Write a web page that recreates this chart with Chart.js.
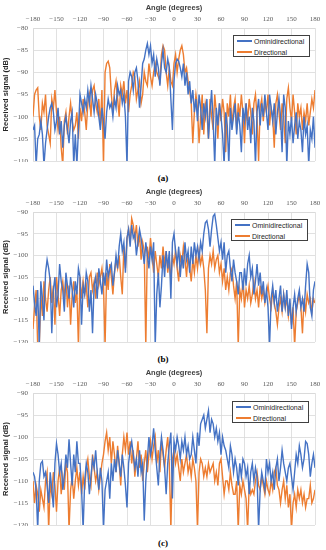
<!DOCTYPE html>
<html>
<head>
<meta charset="utf-8">
<script src="https://cdn.jsdelivr.net/npm/chart.js@4.4.1/dist/chart.umd.min.js"></script>
<style>
  html, body { margin:0; padding:0; background:#fff; }
  body { width:326px; height:550px; position:relative; overflow:hidden; }
  .panel { position:absolute; left:0; width:326px; }
  .panel canvas { display:block; }
  .legend { position:absolute; background:#fff; border:1px solid #404040; box-sizing:border-box; z-index:2; }
  .item { position:absolute; left:3px; height:9px; line-height:9px; font-family:"Liberation Sans", Arial, sans-serif; font-size:7px; color:#262626; white-space:nowrap; }
  .sw { display:inline-block; width:15px; height:2px; vertical-align:middle; margin-right:2px; position:relative; top:-1px; }
  .cap { position:absolute; left:0; width:326px; text-align:center; font-family:"Liberation Serif", "Times New Roman", serif; font-weight:bold; font-size:9px; color:#000; }
</style>
</head>
<body>
<div class="panel" style="top:0px;height:162px"><canvas id="ca" width="326" height="162"></canvas></div>
<div class="panel" style="top:184px;height:159px"><canvas id="cb" width="326" height="159"></canvas></div>
<div class="panel" style="top:365px;height:161px"><canvas id="cc" width="326" height="161"></canvas></div>

<div class="legend" style="left:233px;top:35px;width:77px;height:22px">
  <div class="item" style="top:0.5px"><span class="sw" style="background:#4472C4"></span>Ominidirectional</div>
  <div class="item" style="top:11.5px"><span class="sw" style="background:#ED7D31"></span>Directional</div>
</div>
<div class="legend" style="left:231px;top:219px;width:77px;height:22px">
  <div class="item" style="top:0.5px"><span class="sw" style="background:#4472C4"></span>Ominidirectional</div>
  <div class="item" style="top:11.5px"><span class="sw" style="background:#ED7D31"></span>Directional</div>
</div>
<div class="legend" style="left:232px;top:401px;width:77px;height:22px">
  <div class="item" style="top:0.5px"><span class="sw" style="background:#4472C4"></span>Ominidirectional</div>
  <div class="item" style="top:11.5px"><span class="sw" style="background:#ED7D31"></span>Directional</div>
</div>

<div class="cap" style="top:173px">(a)</div>
<div class="cap" style="top:354px">(b)</div>
<div class="cap" style="top:538px">(c)</div>

<script>
// Angle grid: -180 .. 180 in 2-degree steps
const ANGLE_START = -180, ANGLE_END = 180, ANGLE_STEP = 2;
const angles = [];
for (let a = ANGLE_START; a <= ANGLE_END; a += ANGLE_STEP) angles.push(a);

const xTicks = [-180, -150, -120, -90, -60, -30, 0, 30, 60, 90, 120, 150, 180];
const seriesNames = ['Ominidirectional', 'Directional'];

// (a)
const aOmni = [
 -103,-102,-111,-105,-104,-101,-104,-111,-106,-103,
 -100,-98,-97,-99,-103,-101,-98,-104,-101,-107,
 -102,-100,-103,-106,-101,-99,-111,-104,-111,-103,
 -95,-97,-99,-96,-98,-94,-97,-93,-96,-99,
 -95,-97,-100,-103,-98,-101,-105,-99,-96,-98,
 -97,-100,-96,-98,-93,-95,-94,-97,-95,-100,
 -111,-92,-90,-91,-94,-90,-89,-92,-98,-93,
 -88,-87,-85,-83.5,-86,-84,-88,-86,-91,-87,
 -89,-93,-88,-85,-89,-90,-87,-89,-96,-103,
 -92,-88,-87,-87.5,-89,-91,-88,-93,-90,-95,
 -92,-97,-94,-99,-96,-101,-95,-98,-103,-97,
 -100,-96,-105,-99,-94,-101,-111,-98,-102,-97,
 -100,-104,-111,-99,-102,-111,-98,-103,-100,-97,
 -104,-99,-102,-108,-98,-101,-97,-103,-100,-106,
 -98,-101,-111,-99,-96,-102,-97,-100,-95,-99,
 -103,-95,-98,-101,-97,-104,-99,-96,-100,-108,
 -95,-98,-111,-101,-104,-100,-106,-102,-99,-105,
 -101,-103,-108,-100,-104,-102,-111,-103,-105,-100,
 -107
];
const aDir = [
 -100,-95,-94,-93.5,-100,-103,-97,-99,-95,-102,
 -104,-106,-96,-98,-94,-99,-103,-100,-107,-111,
 -101,-99,-104,-100,-97,-101,-103,-102,-99,-105,
 -98,-101,-96,-99,-103,-97,-95,-100,-94,-93,
 -97,-99,-96,-102,-94,-111,-90,-88,-87.5,-89,
 -95,-99,-94,-92,-96,-100,-93,-95,-92,-97,
 -94,-99,-95,-93,-90,-91,-96,-94,-92,-97,
 -95,-90,-92,-93,-88,-91,-93,-90,-88,-90,
 -91,-92,-86,-84,-85,-90,-93,-89,-92,-93,
 -88,-86,-90,-87,-85,-84,-86,-90,-89,-92,
 -94,-97,-106,-99,-95,-98,-106,-100,-95,-104,
 -97,-99,-105,-96,-100,-103,-95,-99,-105,-97,
 -101,-96,-99,-108,-97,-100,-95,-102,-98,-96,
 -103,-97,-100,-95,-99,-106,-97,-101,-96,-99,
 -104,-97,-95,-100,-110,-98,-96,-101,-97,-99,
 -95,-102,-98,-100,-107,-97,-95,-99,-103,-97,
 -100,-106,-96,-93.5,-98,-101,-95,-99,-104,-97,
 -100,-98,-103,-99,-101,-97,-102,-99,-96,-98,
 -94
];

// (b)
const bOmni = [
 -107,-111,-114,-108,-121,-106,-110,-115,-104,-101,
 -103,-106,-118,-108,-105,-112,-109,-102,-106,-108,
 -113,-104,-107,-110,-105,-108,-112,-106,-109,-103,
 -105,-116,-107,-109,-104,-106,-113,-108,-118,-107,
 -105,-110,-103,-106,-109,-104,-107,-101,-105,-103,
 -102,-107,-104,-100,-103,-98,-95,-99,-97,-104,
 -96,-94,-98,-93,-96,-95,-100,-97,-94,-96,
 -99,-102,-97,-100,-103,-98,-101,-97,-121,-109,
 -104,-112,-107,-100,-105,-99,-103,-99,-110,-97,
 -95,-99,-102,-98,-105,-100,-103,-97,-101,-99,
 -104,-98,-102,-97,-100,-98,-101,-97,-99,-95,
 -92.5,-92,-94,-98,-94,-91,-90.5,-93,-96,-99,
 -97,-101,-97,-104,-100,-99,-103,-106,-101,-104,
 -106,-109,-104,-104,-108,-103,-107,-102,-100,-105,
 -103,-109,-106,-102,-107,-104,-109,-106,-111,-108,
 -112,-121,-110,-107,-111,-108,-113,-110,-107,-113,
 -109,-112,-108,-114,-110,-117,-112,-109,-113,-110,
 -108,-112,-110,-113,-107,-102,-104,-112,-114,-108,
 -106
];
const bDir = [
 -117,-112,-108,-121,-121,-109,-114,-106,-110,-113,
 -108,-105,-111,-107,-116,-105,-109,-114,-108,-106,
 -110,-105,-112,-107,-116,-109,-106,-111,-108,-121,
 -105,-110,-106,-109,-107,-112,-105,-104,-108,-106,
 -110,-104,-107,-105,-103,-107,-121,-104,-108,-102,
 -105,-109,-104,-101,-103,-100,-105,-109,-98,-103,
 -96,-94,-97,-91.5,-93,-96,-93,-98,-95,-101,
 -97,-99,-121,-98,-101,-96,-100,-104,-99,-102,
 -105,-100,-103,-98,-102,-99,-104,-101,-106,-100,
 -102,-99,-103,-106,-100,-102,-98,-101,-105,-100,
 -103,-106,-101,-104,-100,-103,-99,-102,-100,-103,
 -108,-118,-103,-100,-102,-99,-103,-101,-100,-104,
 -102,-106,-103,-108,-105,-108,-104,-103,-107,-110,
 -106,-121,-108,-110,-106,-112,-108,-110,-107,-111,
 -109,-106,-110,-108,-112,-107,-110,-108,-111,-109,
 -107,-110,-112,-108,-111,-113,-116,-112,-110,-113,
 -109,-112,-110,-114,-111,-116,-112,-121,-113,-111,
 -109,-112,-118,-110,-113,-109,-111,-110,-113,-110,
 -111
];

// (c)
const cOmni = [
 -108,-109,-112,-121,-110,-106,-105.5,-109,-108,-111,
 -115,-108,-112,-116,-106,-101.5,-104,-108,-106,-112,
 -109,-104,-107,-100.5,-106,-111,-104,-108,-101,-106,
 -106,-112,-121,-110,-106,-108,-113,-109,-105,-107,
 -103,-108,-112,-107,-110,-121,-112,-110,-108,-114,
 -106,-110,-105,-108,-103,-106,-109,-104,-107,-111,
 -116,-106,-103,-101,-104,-107,-105,-109,-103,-108,
 -106,-119,-110,-105,-100,-104,-102,-98,-103,-107,
 -111,-104,-100,-103,-107,-113,-106,-102,-99,-114,
 -101,-103,-100,-102,-105,-101,-103,-100,-104,-102,
 -105,-104,-100,-103,-106,-99,-102,-97,-96,-95,
 -98,-96,-94,-99,-96,-97,-100,-98,-101,-99,
 -104,-100,-102,-103,-105,-107,-102,-104,-108,-105,
 -107,-111,-106,-109,-105,-106,-109,-107,-113,-108,
 -106,-110,-107,-109,-121,-112,-108,-110,-112,-105,
 -108,-106,-110,-108,-112,-107,-105,-110,-107,-103,
 -106,-108,-110,-107,-106,-109,-112,-108,-104,-106,
 -102,-104,-107,-105,-101,-101.5,-104,-109,-106,-104,
 -107
];
const cDir = [
 -110,-115,-111,-113,-117,-112,-114,-116,-110,-108,
 -121,-111,-113,-108,-111,-117,-110,-107,-113,-109,
 -112,-106,-108,-121,-112,-109,-114,-110,-107,-111,
 -108,-113,-109,-112,-107,-105,-109,-111,-104,-107,
 -110,-108,-112,-109,-106,-104,-101,-99,-103,-100,
 -106,-101,-104,-108,-102,-106,-111,-104,-100,-103,
 -99,-104,-101,-106,-103,-109,-105,-101,-107,-104,
 -110,-106,-103,-108,-104,-101,-105,-102,-100,-106,
 -103,-108,-101,-104,-107,-103,-100,-106,-121,-105,
 -103,-106,-104,-107,-110,-105,-108,-106,-104,-108,
 -106,-109,-105,-107,-110,-121,-108,-105,-106,-109,
 -107,-109,-106,-108,-107,-106,-110,-108,-111,-106,
 -105,-109,-113,-110,-110,-112,-108,-111,-113,-113,
 -110,-121,-111,-113,-110,-112,-114,-121,-111,-113,
 -112,-113,-110,-108,-111,-112,-109,-111,-113,-110,
 -112,-113,-110,-112,-108,-107,-111,-112,-115,-112,
 -110,-114,-111,-116,-113,-121,-115,-113,-116,-112,
 -114,-112,-115,-113,-116,-114,-114,-111,-115,-114,
 -112
];

const OMNI_COLOR = '#4472C4';
const DIR_COLOR = '#ED7D31';
const GRID = '#d9d9d9';

function fmt(v) { return String(v).replace('-', '\u2212'); }

function build(id, omni, dir, yMin, yMax) {
  const toPts = arr => arr.map((v, i) => ({ x: angles[i], y: v }));
  return new Chart(document.getElementById(id), {
    type: 'line',
    data: {
      datasets: [
        { label: seriesNames[0], data: toPts(omni), borderColor: OMNI_COLOR, backgroundColor: OMNI_COLOR,
          borderWidth: 1.4, pointRadius: 0, tension: 0, fill: false },
        { label: seriesNames[1], data: toPts(dir), borderColor: DIR_COLOR, backgroundColor: DIR_COLOR,
          borderWidth: 1.4, pointRadius: 0, tension: 0, fill: false }
      ]
    },
    options: {
      responsive: false, maintainAspectRatio: false, animation: false, devicePixelRatio: 1,
      layout: { autoPadding: false, padding: { left: 0, right: 11, top: 0, bottom: 1 } },
      plugins: { legend: { display: false }, tooltip: { enabled: false } },
      scales: {
        x: {
          type: 'linear', position: 'top', min: -180, max: 180,
          afterBuildTicks: s => { s.ticks = xTicks.map(v => ({ value: v })); },
          ticks: { padding: 4.8, color: '#595959', maxRotation: 0, autoSkip: false,
                   font: { family: 'Liberation Serif', size: 7 }, callback: fmt },
          grid: { color: GRID, lineWidth: 0.8, drawTicks: false },
          border: { display: true, color: GRID, width: 0.8 },
          title: { display: true, text: 'Angle (degrees)', color: '#404040',
                   font: { family: 'Liberation Sans', size: 7.5, weight: 'bold' },
                   padding: { top: 3.5, bottom: 0 } },
          afterFit: s => { s.height = 28; s.paddingLeft = 0; s.paddingRight = 0; }
        },
        y: {
          min: yMin, max: yMax,
          ticks: { stepSize: 5, padding: 5, color: '#595959',
                   font: { family: 'Liberation Serif', size: 7 }, callback: fmt },
          grid: { color: GRID, lineWidth: 0.8, drawTicks: false },
          border: { display: true, color: GRID, width: 0.8 },
          title: { display: true, text: 'Received signal (dB)', color: '#262626',
                   font: { family: 'Liberation Sans', size: 7.5, weight: 'bold' },
                   padding: { top: 1.5, bottom: 0 } },
          afterFit: s => { s.width = 33; s.paddingTop = 0; s.paddingBottom = 0; }
        }
      }
    }
  });
}

build('ca', aOmni, aDir, -110, -80);
build('cb', bOmni, bDir, -120, -90);
build('cc', cOmni, cDir, -120, -90);
</script>
</body>
</html>
